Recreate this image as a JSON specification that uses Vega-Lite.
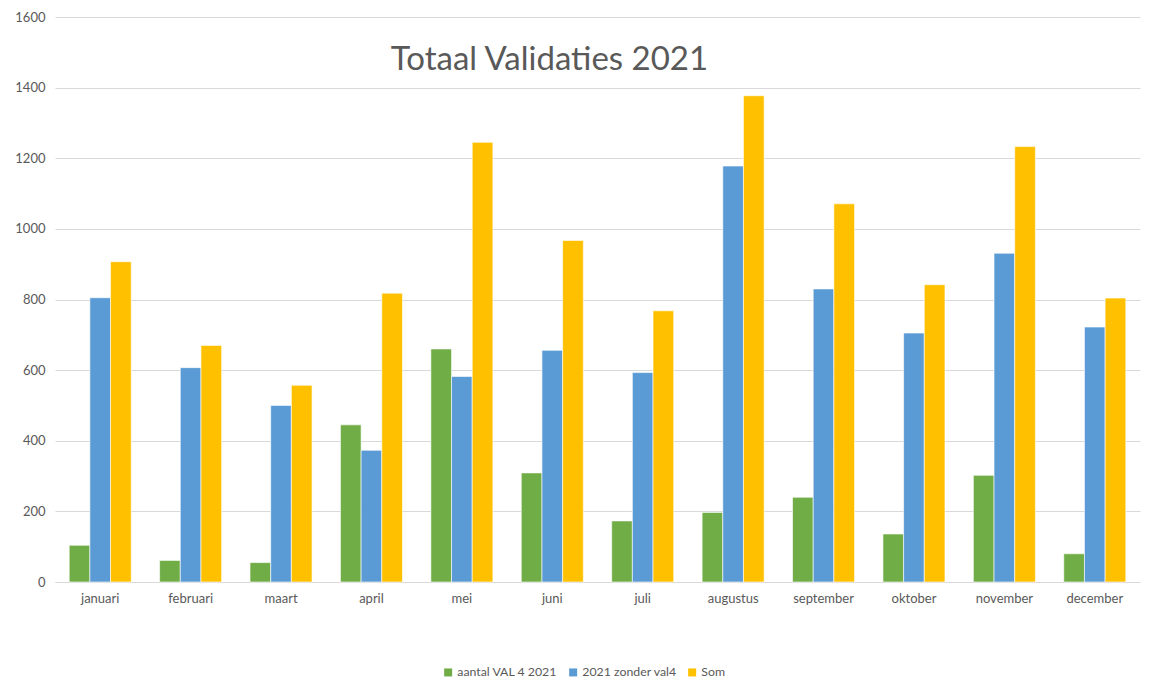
{
  "$schema": "https://vega.github.io/schema/vega-lite/v6.json",
  "autosize": {"type": "none"},
  "width": 1085,
  "height": 565,
  "padding": {"left": 55, "top": 17, "right": 10, "bottom": 105},
  "background": "white",
  "title": {
    "text": "Totaal Validaties 2021",
    "font": "Lato",
    "fontSize": 33,
    "fontWeight": "normal",
    "color": "#595959",
    "anchor": "middle",
    "dx": -48,
    "dy": 70
  },
  "data": {
    "values": [
      {"maand": "januari", "reeks": "aantal VAL 4 2021", "waarde": 104},
      {"maand": "januari", "reeks": "2021 zonder val4", "waarde": 805},
      {"maand": "januari", "reeks": "Som", "waarde": 907},
      {"maand": "februari", "reeks": "aantal VAL 4 2021", "waarde": 61},
      {"maand": "februari", "reeks": "2021 zonder val4", "waarde": 607},
      {"maand": "februari", "reeks": "Som", "waarde": 670},
      {"maand": "maart", "reeks": "aantal VAL 4 2021", "waarde": 55},
      {"maand": "maart", "reeks": "2021 zonder val4", "waarde": 500},
      {"maand": "maart", "reeks": "Som", "waarde": 557},
      {"maand": "april", "reeks": "aantal VAL 4 2021", "waarde": 445},
      {"maand": "april", "reeks": "2021 zonder val4", "waarde": 373},
      {"maand": "april", "reeks": "Som", "waarde": 818},
      {"maand": "mei", "reeks": "aantal VAL 4 2021", "waarde": 660},
      {"maand": "mei", "reeks": "2021 zonder val4", "waarde": 582},
      {"maand": "mei", "reeks": "Som", "waarde": 1245},
      {"maand": "juni", "reeks": "aantal VAL 4 2021", "waarde": 309},
      {"maand": "juni", "reeks": "2021 zonder val4", "waarde": 656},
      {"maand": "juni", "reeks": "Som", "waarde": 967},
      {"maand": "juli", "reeks": "aantal VAL 4 2021", "waarde": 173},
      {"maand": "juli", "reeks": "2021 zonder val4", "waarde": 593},
      {"maand": "juli", "reeks": "Som", "waarde": 768},
      {"maand": "augustus", "reeks": "aantal VAL 4 2021", "waarde": 197},
      {"maand": "augustus", "reeks": "2021 zonder val4", "waarde": 1178},
      {"maand": "augustus", "reeks": "Som", "waarde": 1377},
      {"maand": "september", "reeks": "aantal VAL 4 2021", "waarde": 240},
      {"maand": "september", "reeks": "2021 zonder val4", "waarde": 830},
      {"maand": "september", "reeks": "Som", "waarde": 1071},
      {"maand": "oktober", "reeks": "aantal VAL 4 2021", "waarde": 136},
      {"maand": "oktober", "reeks": "2021 zonder val4", "waarde": 705},
      {"maand": "oktober", "reeks": "Som", "waarde": 842},
      {"maand": "november", "reeks": "aantal VAL 4 2021", "waarde": 302},
      {"maand": "november", "reeks": "2021 zonder val4", "waarde": 931},
      {"maand": "november", "reeks": "Som", "waarde": 1233},
      {"maand": "december", "reeks": "aantal VAL 4 2021", "waarde": 80},
      {"maand": "december", "reeks": "2021 zonder val4", "waarde": 722},
      {"maand": "december", "reeks": "Som", "waarde": 804}
    ]
  },
  "mark": {"type": "bar", "stroke": "white", "strokeWidth": 0.6},
  "encoding": {
    "x": {
      "field": "maand",
      "type": "nominal",
      "sort": ["januari", "februari", "maart", "april", "mei", "juni", "juli", "augustus", "september", "oktober", "november", "december"],
      "scale": {"paddingInner": 0.314, "paddingOuter": 0.157},
      "axis": {
        "title": null,
        "labelAngle": 0,
        "ticks": false,
        "domain": true,
        "domainColor": "#d9d9d9",
        "domainWidth": 1,
        "labelFont": "Lato",
        "labelFontSize": 13,
        "labelColor": "#595959",
        "labelPadding": 10,
        "grid": false
      }
    },
    "xOffset": {
      "field": "reeks",
      "type": "nominal",
      "sort": ["aantal VAL 4 2021", "2021 zonder val4", "Som"],
      "scale": {"paddingInner": 0, "paddingOuter": 0}
    },
    "y": {
      "field": "waarde",
      "type": "quantitative",
      "scale": {"domain": [0, 1600], "nice": false},
      "axis": {
        "title": null,
        "values": [0, 200, 400, 600, 800, 1000, 1200, 1400, 1600],
        "format": "d",
        "ticks": false,
        "domain": false,
        "grid": true,
        "gridColor": "#d9d9d9",
        "gridWidth": 1,
        "labelFont": "Lato",
        "labelFontSize": 13,
        "labelColor": "#595959",
        "labelPadding": 10
      }
    },
    "color": {
      "field": "reeks",
      "type": "nominal",
      "sort": ["aantal VAL 4 2021", "2021 zonder val4", "Som"],
      "scale": {
        "domain": ["aantal VAL 4 2021", "2021 zonder val4", "Som"],
        "range": ["#70AD47", "#5B9BD5", "#FFC000"]
      },
      "legend": {
        "title": null,
        "orient": "none",
        "legendX": 387,
        "legendY": 649,
        "direction": "horizontal",
        "symbolType": "square",
        "symbolSize": 64,
        "symbolStrokeWidth": 0,
        "labelOffset": 3,
        "labelFont": "Lato",
        "labelFontSize": 12.3,
        "labelColor": "#595959",
        "columnPadding": 9
      }
    }
  },
  "config": {
    "view": {"stroke": null}
  }
}
